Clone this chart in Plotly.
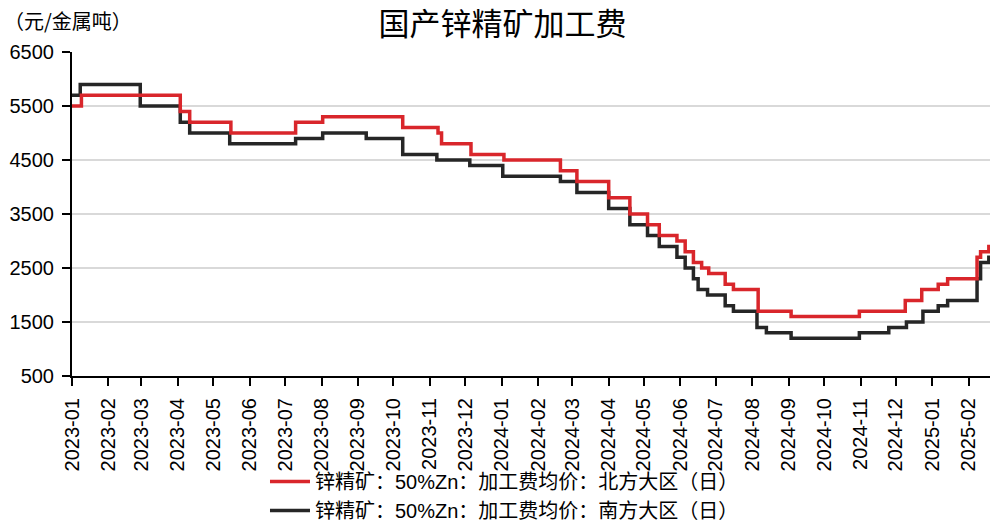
import plotly.graph_objects as go

# ---- data ----
dates_north = ["2023-01-01","2023-01-09","2023-04-03","2023-04-11","2023-05-16","2023-07-10","2023-08-02",
               "2023-10-09","2023-11-08","2023-11-11","2023-12-06","2024-01-03","2024-02-20","2024-03-05",
               "2024-04-01","2024-04-19","2024-05-04","2024-05-14","2024-05-29","2024-06-05","2024-06-12",
               "2024-06-19","2024-06-25","2024-07-09","2024-07-16","2024-08-06","2024-09-03","2024-10-31",
               "2024-12-09","2024-12-23","2025-01-06","2025-01-14","2025-02-08","2025-02-11","2025-02-18",
               "2025-02-19"]
values_north = [5500,5700,5400,5200,5000,5200,5300,5100,5000,4800,4600,4500,4300,4100,3800,3500,3300,3100,
                3000,2800,2600,2500,2400,2200,2100,1700,1600,1700,1900,2100,2200,2300,2700,2800,2900,2900]

dates_south = ["2023-01-01","2023-01-08","2023-02-28","2023-04-03","2023-04-11","2023-05-15","2023-07-10",
               "2023-08-02","2023-09-08","2023-10-09","2023-11-07","2023-12-05","2024-01-02","2024-02-20",
               "2024-03-05","2024-04-01","2024-04-19","2024-05-04","2024-05-14","2024-05-29","2024-06-05",
               "2024-06-12","2024-06-16","2024-06-24","2024-07-09","2024-07-16","2024-08-05","2024-08-13",
               "2024-09-03","2024-10-31","2024-11-25","2024-12-10","2024-12-24","2025-01-06","2025-01-14",
               "2025-02-08","2025-02-11","2025-02-18","2025-02-19"]
values_south = [5700,5900,5500,5200,5000,4800,4900,5000,4900,4600,4500,4400,4200,4100,3900,3600,3300,3100,
                2900,2700,2500,2300,2100,2000,1800,1700,1400,1300,1200,1300,1400,1500,1700,1800,1900,2300,
                2600,2700,2700]

name_north = "锌精矿：50%Zn：加工费均价：北方大区（日）"
name_south = "锌精矿：50%Zn：加工费均价：南方大区（日）"
title_text = "国产锌精矿加工费"
unit_text = "（元/金属吨）"
y_ticks = [500, 1500, 2500, 3500, 4500, 5500, 6500]

FONT = "Liberation Sans, Arial, Noto Sans CJK SC, sans-serif"

fig = go.Figure()
fig.add_trace(go.Scatter(x=dates_south, y=values_south, mode="lines", name=name_south,
                         line=dict(color="#262626", width=3.5, shape="hv"), legendrank=2))
fig.add_trace(go.Scatter(x=dates_north, y=values_north, mode="lines", name=name_north,
                         line=dict(color="#d9262b", width=3.5, shape="hv"), legendrank=1))

fig.update_layout(
    width=999, height=522,
    margin=dict(l=72, r=9, t=52, b=146, autoexpand=False),
    paper_bgcolor="white", plot_bgcolor="white",
    font=dict(family=FONT, size=20, color="black"),
    title=dict(text=title_text, x=0.503, xanchor="center", y=1 - 24/522, yanchor="middle",
               font=dict(family="Noto Sans CJK SC", size=31, color="black")),
    showlegend=True,
    legend=dict(orientation="v", x=0.505, xanchor="center", xref="container",
                y=1 - 462/522, yanchor="top", yref="container",
                font=dict(family=FONT, size=20, color="black"),
                bgcolor="rgba(0,0,0,0)", itemwidth=40, tracegroupgap=0),
    xaxis=dict(type="date", range=["2023-01-01", "2025-02-19"], dtick="M1", tick0="2023-01-01",
               tickformat="%Y-%m", tickangle=-90, ticks="outside", ticklen=8, tickwidth=2,
               tickcolor="black", showline=True, linecolor="black", linewidth=2, automargin=False,
               ticklabelstandoff=4,
               showgrid=False, zeroline=False, tickfont=dict(size=20)),
    yaxis=dict(range=[500, 6500], tickvals=y_ticks, ticks="outside", ticklen=8, tickwidth=2,
               tickcolor="black", showline=True, linecolor="black", linewidth=2, automargin=False,
               ticklabelstandoff=4,
               showgrid=True, gridcolor="#d9d9d9", gridwidth=2, zeroline=False,
               tickfont=dict(size=20)),
    annotations=[dict(text=unit_text, xref="paper", yref="paper", x=-0.076, y=1 + 32/324,
                      xanchor="left", yanchor="middle", showarrow=False,
                      font=dict(family="Noto Sans CJK SC", size=20, color="black"))],
)

fig.write_html("out.html", config={"displayModeBar": False},
               post_script="document.body.style.margin='0';")
